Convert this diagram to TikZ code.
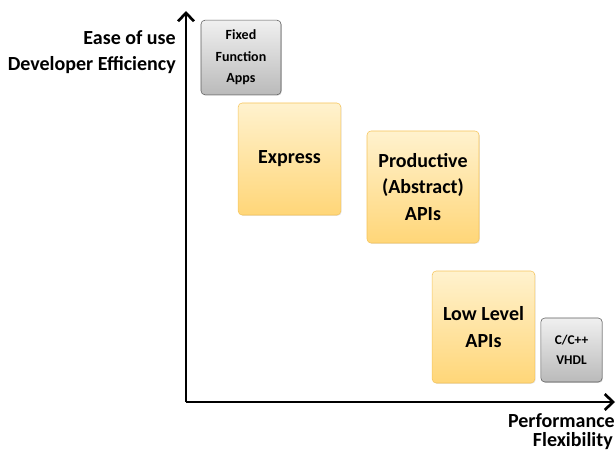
\documentclass[tikz,border=0pt]{standalone}
\usepackage{fontspec}
\setmainfont{Carlito}
\usetikzlibrary{arrows.meta,shadows}
\definecolor{amberlite}{RGB}{255,242,206}
\definecolor{amberdeep}{RGB}{255,214,120}
\definecolor{amberline}{RGB}{246,196,90}
\definecolor{greylite}{RGB}{240,240,240}
\definecolor{greydeep}{RGB}{186,186,186}
\definecolor{greyline}{RGB}{90,90,90}
\tikzset{
  >={Straight Barb[length=2.2mm,width=4.2mm,line width=2pt]},
  tier/.style={rounded corners=3pt,thin,draw=amberline,top color=amberlite,bottom color=amberdeep,
    inner sep=0pt,align=center,font=\fontsize{15}{20}\selectfont\bfseries,
    drop shadow={opacity=0.2,shadow xshift=0.6pt,shadow yshift=-0.6pt}},
  edge box/.style={rounded corners=3pt,thin,draw=greyline,top color=greylite,bottom color=greydeep,
    inner sep=0pt,align=center,font=\fontsize{10.5}{16}\selectfont\bfseries,
    drop shadow={opacity=0.3,shadow xshift=0.6pt,shadow yshift=-0.6pt}},
  axis/.style={->,line width=2.2pt},
  axis label/.style={font=\fontsize{15}{18}\selectfont\bfseries,inner sep=0pt},
}
\begin{document}
\begin{tikzpicture}[x=0.75pt,y=-0.75pt]
  \useasboundingbox (0,0) rectangle (616,452);
  % axes
  \coordinate (o) at (186,402);
  \coordinate (ytop) at (186,11);
  \coordinate (xend) at (615,402);
  \draw[axis] (o) -- (ytop);
  \draw[axis] (o) -- (xend);
  \node[axis label,anchor=east] (ease) at (176,38) {Ease of use};
  \node[axis label,anchor=east] (dev) at (176,65) {Developer Efficiency};
  \node[axis label,anchor=east] (perf) at (615,421) {Performance};
  \node[axis label,anchor=east] (flex) at (613,441) {Flexibility};
  % boxes
  \node[edge box,minimum width=60pt,minimum height=56pt] (fixed) at (241,57.5) {Fixed\\Function\\Apps};
  \node[tier,minimum width=77pt,minimum height=84pt] (express) at (289.5,159) {Express};
  \node[tier,minimum width=84pt,minimum height=84pt] (productive) at (423,187) {Productive\\(Abstract)\\APIs};
  \node[tier,minimum width=77pt,minimum height=84pt] (lowlevel) at (483.5,327) {Low Level\\APIs};
  \node[edge box,font=\fontsize{10}{15}\selectfont\bfseries,minimum width=46pt,minimum height=48pt] (chdl) at (571.5,350) {C/C++\\VHDL};
\end{tikzpicture}
\end{document}
